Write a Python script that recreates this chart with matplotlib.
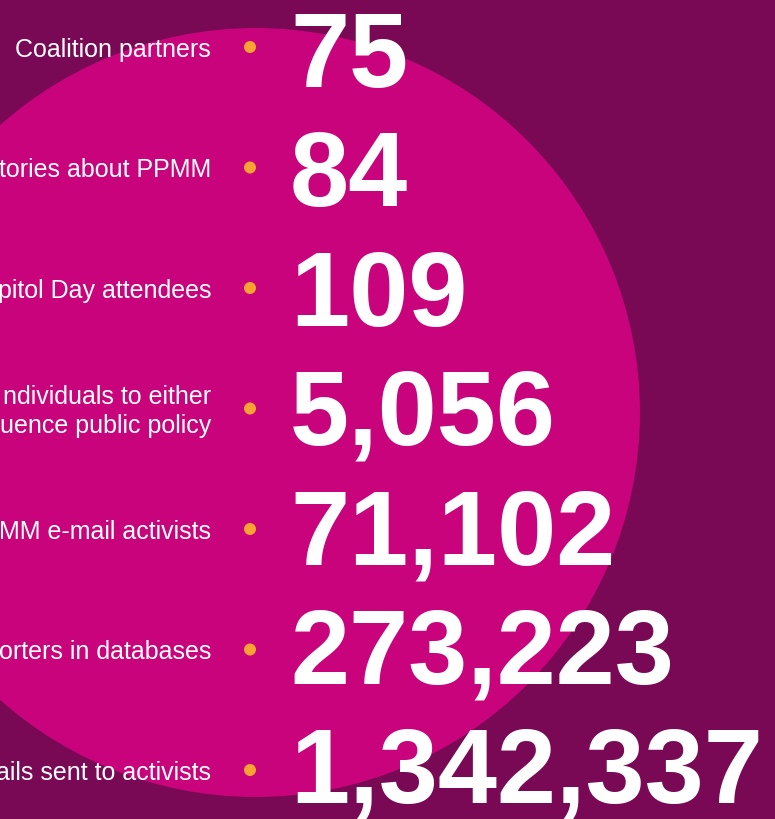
import matplotlib
matplotlib.use("Agg")
import matplotlib.pyplot as plt
from matplotlib.patches import Circle

# ---- data ----
labels = [
    "Coalition partners",
    "tories about PPMM",
    "pitol Day attendees",
    "ndividuals to either\nuence public policy",
    "MM e-mail activists",
    "orters in databases",
    "ails sent to activists",
]
values = [75, 84, 109, 5056, 71102, 273223, 1342337]

# ---- style ----
BG = "#790955"
CIRCLE = "#C8037B"
DOT = "#F7A233"
W, H = 775, 820

fig = plt.figure(figsize=(W / 100, H / 100), dpi=100)
fig.patch.set_facecolor(BG)
ax = fig.add_axes([0, 0, 1, 1])
ax.set_xlim(0, W)
ax.set_ylim(H, 0)
ax.set_facecolor(BG)
ax.axis("off")

ax.add_patch(Circle((255.5, 413.5), 384.5, facecolor=CIRCLE, edgecolor="none", zorder=1))

row0, row_step = 48, 120.5
num0, num_step = 87, 119.3
label_x, dot_x, num_x = 211, 250, 290

for i, (lab, val) in enumerate(zip(labels, values)):
    yc = row0 + row_step * i
    lines = lab.split("\n")
    n = len(lines)
    for j, line in enumerate(lines):
        base = yc + 8.8 + (j - (n - 1) / 2) * 29
        ax.text(label_x, base, line, ha="right", va="baseline", color="white",
                fontsize=18, family="Liberation Sans", zorder=3)
    ax.scatter([dot_x], [yc], s=75, color=DOT, edgecolors="none", zorder=3)
    ax.text(num_x, num0 + num_step * i, f"{val:,}", ha="left", va="baseline",
            color="white", fontsize=76.5, fontweight="bold",
            family="Liberation Sans", zorder=3)

fig.savefig("out.png", dpi=100, facecolor=BG)
